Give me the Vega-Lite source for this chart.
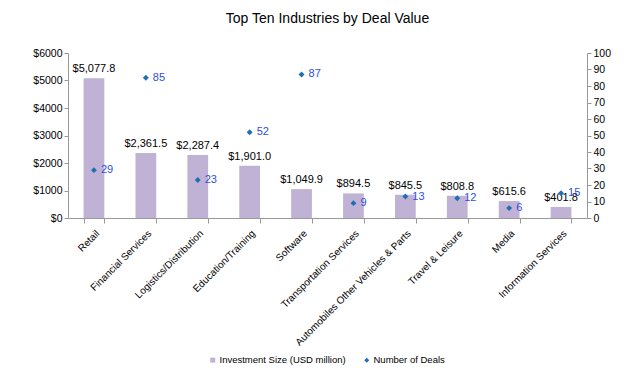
{
  "$schema": "https://vega.github.io/schema/vega-lite/v6.json",
  "width": 519,
  "height": 165,
  "autosize": "none",
  "padding": {"left": 68, "top": 53, "right": 53, "bottom": 156},
  "background": "white",
  "config": {
    "font": "Liberation Sans",
    "view": {"stroke": null},
    "axis": {"labelFont": "Liberation Sans", "labelFontSize": 10.5, "labelColor": "#000", "domainColor": "#999", "tickColor": "#999", "grid": false, "labelFlush": false}
  },
  "title": {"text": "Top Ten Industries by Deal Value", "fontSize": 14, "fontWeight": "normal", "font": "Liberation Sans", "color": "#000", "offset": 22},
  "data": {"values": [
    {"industry": "Retail", "value": 5077.8, "deals": 29},
    {"industry": "Financial Services", "value": 2361.5, "deals": 85},
    {"industry": "Logistics/Distribution", "value": 2287.4, "deals": 23},
    {"industry": "Education/Training", "value": 1901.0, "deals": 52},
    {"industry": "Software", "value": 1049.9, "deals": 87},
    {"industry": "Transportation Services", "value": 894.5, "deals": 9},
    {"industry": "Automobiles Other Vehicles & Parts", "value": 845.5, "deals": 13},
    {"industry": "Travel & Leisure", "value": 808.8, "deals": 12},
    {"industry": "Media", "value": 615.6, "deals": 6},
    {"industry": "Information Services", "value": 401.8, "deals": 15}
  ]},
  "encoding": {
    "x": {"field": "industry", "type": "nominal", "sort": null, "title": null,
      "scale": {"paddingInner": 0.6, "paddingOuter": 0.3},
      "axis": {"labelAngle": -45, "labelAlign": "right", "labelBaseline": "top", "tickBand": "extent", "tickSize": 5, "labelPadding": 5, "labelFontSize": 10, "labelOverlap": false}}
  },
  "layer": [
    {
      "encoding": {
        "y": {"field": "value", "type": "quantitative", "title": null,
          "scale": {"domain": [0, 6000], "nice": false},
          "axis": {"values": [0, 1000, 2000, 3000, 4000, 5000, 6000], "labelExpr": "'$' + datum.value", "tickSize": 4, "labelOverlap": false, "labelBound": false}}
      },
      "layer": [
        {"mark": {"type": "bar", "color": "#C0B2D4"},
         "encoding": {
           "color": {"datum": "Investment Size (USD million)", "type": "nominal",
             "scale": {"domain": ["Investment Size (USD million)", "Number of Deals"], "range": ["#C0B2D4", "#1F6FB4"]},
             "legend": {"orient": "none", "legendX": 140, "legendY": 302, "direction": "horizontal", "title": null, "symbolSize": 25, "labelFontSize": 9.5, "labelFont": "Liberation Sans", "columnPadding": 16, "symbolType": "square", "labelOffset": 2}}
         }},
        {"mark": {"type": "text", "dy": -9, "fontSize": 11, "color": "#000"},
         "encoding": {
           "text": {"field": "value", "type": "quantitative", "format": "$,.1f"}
         }}
      ]
    },
    {
      "encoding": {
        "y": {"field": "deals", "type": "quantitative", "title": null,
          "scale": {"domain": [0, 100], "nice": false},
          "axis": {"orient": "right", "values": [0, 10, 20, 30, 40, 50, 60, 70, 80, 90, 100], "tickSize": 4, "labelOverlap": false, "labelBound": false}}
      },
      "layer": [
        {"mark": {"type": "point", "shape": "diamond", "filled": true, "size": 35, "opacity": 1},
         "encoding": {
           "color": {"datum": "Number of Deals", "type": "nominal"},
           "shape": {"datum": "Number of Deals", "type": "nominal",
             "scale": {"domain": ["Investment Size (USD million)", "Number of Deals"], "range": ["square", "diamond"]}}
         }},
        {"mark": {"type": "text", "align": "left", "dx": 7, "fontSize": 11, "color": "#2E4FE0"},
         "encoding": {
           "text": {"field": "deals", "type": "quantitative"}
         }}
      ]
    }
  ],
  "resolve": {"scale": {"y": "independent"}}
}
